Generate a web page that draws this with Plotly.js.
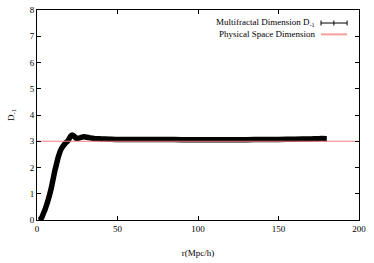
<!DOCTYPE html>
<html>
<head>
<meta charset="utf-8">
<script src="https://cdn.plot.ly/plotly-3.0.1.min.js"></script>
<style>html,body{margin:0;padding:0;background:#fff;}#chart{width:374px;height:263px;}</style>
</head>
<body>
<div id="chart"></div>
<script>
var rVals = [1,2,3,4,5,6,7,8,9,10,11,12,13,14,15,16,17,18,19,20,21,22,23,24,25,26,27,28,29,30,32,34,36,40,45,50,60,70,80,90,100,110,120,130,140,150,160,170,175,180];
var dVals = [0.0,0.02,0.1,0.25,0.4,0.58,0.78,1.0,1.25,1.55,1.85,2.1,2.35,2.55,2.7,2.8,2.88,2.95,3.0,3.1,3.2,3.24,3.2,3.13,3.11,3.12,3.14,3.16,3.17,3.16,3.14,3.12,3.1,3.09,3.08,3.07,3.07,3.07,3.07,3.06,3.06,3.06,3.06,3.06,3.07,3.07,3.08,3.09,3.1,3.1];
var physX = [0, 200];
var physY = [3, 3];
var xTicks = [0, 50, 100, 150, 200];
var yTicks = [0, 1, 2, 3, 4, 5, 6, 7, 8];

var font = {family: 'Liberation Serif, Times New Roman, serif', size: 9, color: '#000'};

var traces = [
  {x: rVals, y: dVals, mode: 'lines', line: {color: '#000', width: 5.5, simplify: false, shape: 'spline', smoothing: 0.6}, hoverinfo: 'skip', showlegend: false},
  {x: physX, y: physY, mode: 'lines', line: {color: 'rgb(240,128,128)', width: 1}, hoverinfo: 'skip', showlegend: false}
];

var layout = {
  width: 374, height: 263,
  margin: {l: 37, r: 15, t: 10, b: 43},
  paper_bgcolor: '#fff', plot_bgcolor: '#fff',
  font: font,
  showlegend: false,
  xaxis: {
    range: [0, 200], tickvals: xTicks, ticks: 'inside', ticklen: 4, tickcolor: '#000',
    mirror: 'ticks', showline: true, linecolor: '#000', linewidth: 1, showgrid: false, zeroline: false,
    tickfont: font, title: {text: 'r(Mpc/h)', font: font, standoff: 16}
  },
  yaxis: {
    range: [0, 8], tickvals: yTicks, ticks: 'inside', ticklen: 4, tickcolor: '#000',
    mirror: 'ticks', showline: true, linecolor: '#000', linewidth: 1, showgrid: false, zeroline: false,
    tickfont: font, title: {text: 'D<sub>-1</sub>', font: font, standoff: 13}
  },
  annotations: [
    {xref: 'paper', yref: 'paper', x: 0.869, y: 0.94, xanchor: 'right', yanchor: 'middle', showarrow: false,
     text: 'Multifractal Dimension D<sub>-1</sub>', font: font},
    {xref: 'paper', yref: 'paper', x: 0.869, y: 0.884, xanchor: 'right', yanchor: 'middle', showarrow: false,
     text: 'Physical Space Dimension', font: font}
  ],
  shapes: [
    {type: 'line', xref: 'paper', yref: 'paper', x0: 0.882, x1: 0.963, y0: 0.938, y1: 0.938, line: {color: '#000', width: 1}},
    {type: 'line', xref: 'paper', yref: 'paper', x0: 0.882, x1: 0.882, y0: 0.926, y1: 0.95, line: {color: '#000', width: 1}},
    {type: 'line', xref: 'paper', yref: 'paper', x0: 0.922, x1: 0.922, y0: 0.926, y1: 0.95, line: {color: '#000', width: 1}},
    {type: 'line', xref: 'paper', yref: 'paper', x0: 0.963, x1: 0.963, y0: 0.926, y1: 0.95, line: {color: '#000', width: 1}},
    {type: 'line', xref: 'paper', yref: 'paper', x0: 0.882, x1: 0.963, y0: 0.884, y1: 0.884, line: {color: 'rgb(245,160,150)', width: 2}}
  ]
};

Plotly.newPlot('chart', traces, layout, {staticPlot: true, displayModeBar: false});
</script>
</body>
</html>
